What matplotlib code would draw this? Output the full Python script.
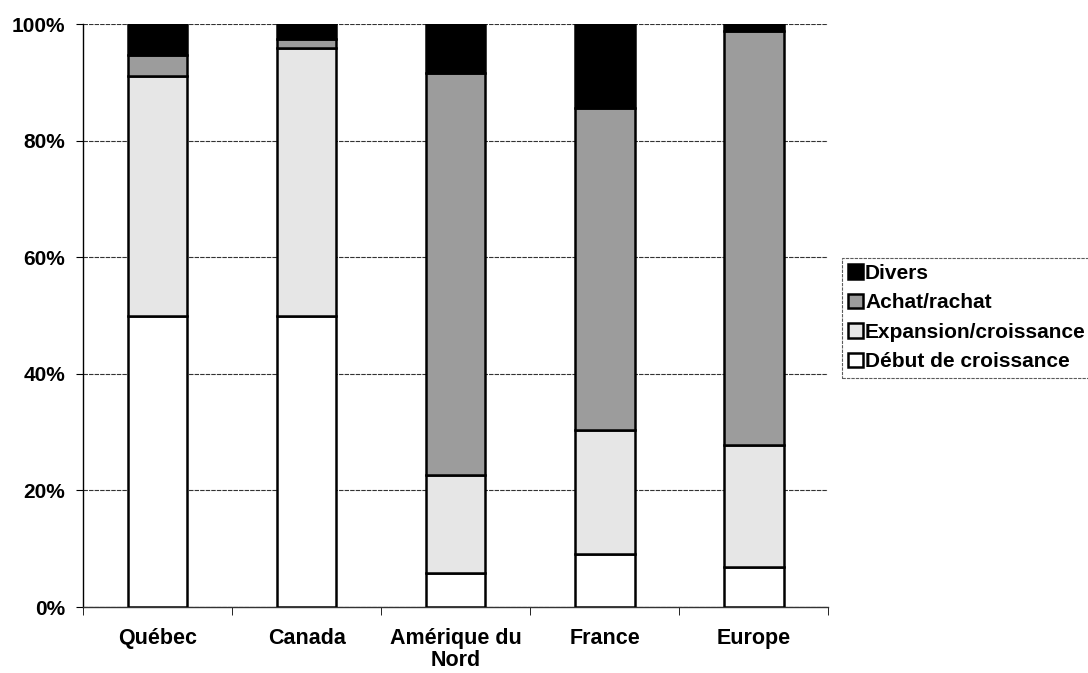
import numpy as np
import matplotlib.pyplot as plt
from matplotlib.patches import Patch

plt.rcParams['font.family'] = ['Liberation Sans', 'DejaVu Sans']

regions = ['Québec', 'Canada', 'Amérique du\nNord', 'France', 'Europe']
debut = [50.0, 50.0, 5.8, 9.1, 6.9]
expansion = [41.1, 45.9, 16.8, 21.3, 20.9]
achat = [3.6, 1.5, 69.0, 55.2, 71.0]
divers = [5.3, 2.6, 8.4, 14.4, 1.2]

series = [
    ('Début de croissance', debut, 'white'),
    ('Expansion/croissance', expansion, '#e6e6e6'),
    ('Achat/rachat', achat, '#9c9c9c'),
    ('Divers', divers, 'black'),
]

fig = plt.figure(figsize=(10.88, 6.73), dpi=100)
ax = fig.add_axes([0.0763, 0.098, 0.685, 0.866])

x = np.arange(len(regions))
bottom = np.zeros(len(regions))
handles = []
for name, vals, col in series:
    ax.bar(x, vals, 0.40, bottom=bottom, color=col, edgecolor='black',
           linewidth=1.8, zorder=3)
    bottom += np.array(vals)
    handles.append(Patch(facecolor=col, edgecolor='black', linewidth=1.8,
                         label=name))

ax.set_xlim(-0.5, len(regions) - 0.5)
ax.set_ylim(0, 100)
ax.set_yticks(np.arange(0, 101, 20))
ax.set_yticklabels([f'{v}%' for v in range(0, 101, 20)], fontsize=15,
                   fontweight='bold')
ax.set_xticks(x)
ax.set_xticklabels(regions, fontsize=15.5, fontweight='bold',
                   linespacing=1.1)
ax.tick_params(axis='x', length=0, pad=15)
ax.tick_params(axis='y', length=5, direction='out', pad=8)
# category boundary ticks
ax.set_xticks(np.arange(-0.5, len(regions), 1), minor=True)
ax.tick_params(axis='x', which='minor', length=6, direction='out')

ax.yaxis.grid(True, color='#333333', linewidth=0.8, linestyle=(0, (4, 1)))
ax.set_axisbelow(True)
for s in ['top', 'right']:
    ax.spines[s].set_visible(False)
ax.spines['left'].set_linewidth(1.0)
ax.spines['bottom'].set_linewidth(1.0)
ax.spines['bottom'].set_color('#333333')

leg = fig.legend(handles=handles[::-1], loc='center left',
                 bbox_to_anchor=(0.774, 0.528), frameon=True, fancybox=False,
                 prop={'size': 15, 'weight': 'bold'}, handlelength=0.7,
                 handleheight=0.7, handletextpad=0.1, labelspacing=0.5,
                 borderpad=0.3, borderaxespad=0)
leg.get_frame().set_edgecolor('#333333')
leg.get_frame().set_linestyle((0, (3, 1)))
leg.get_frame().set_linewidth(0.8)

fig.savefig('out.png', dpi=100)
